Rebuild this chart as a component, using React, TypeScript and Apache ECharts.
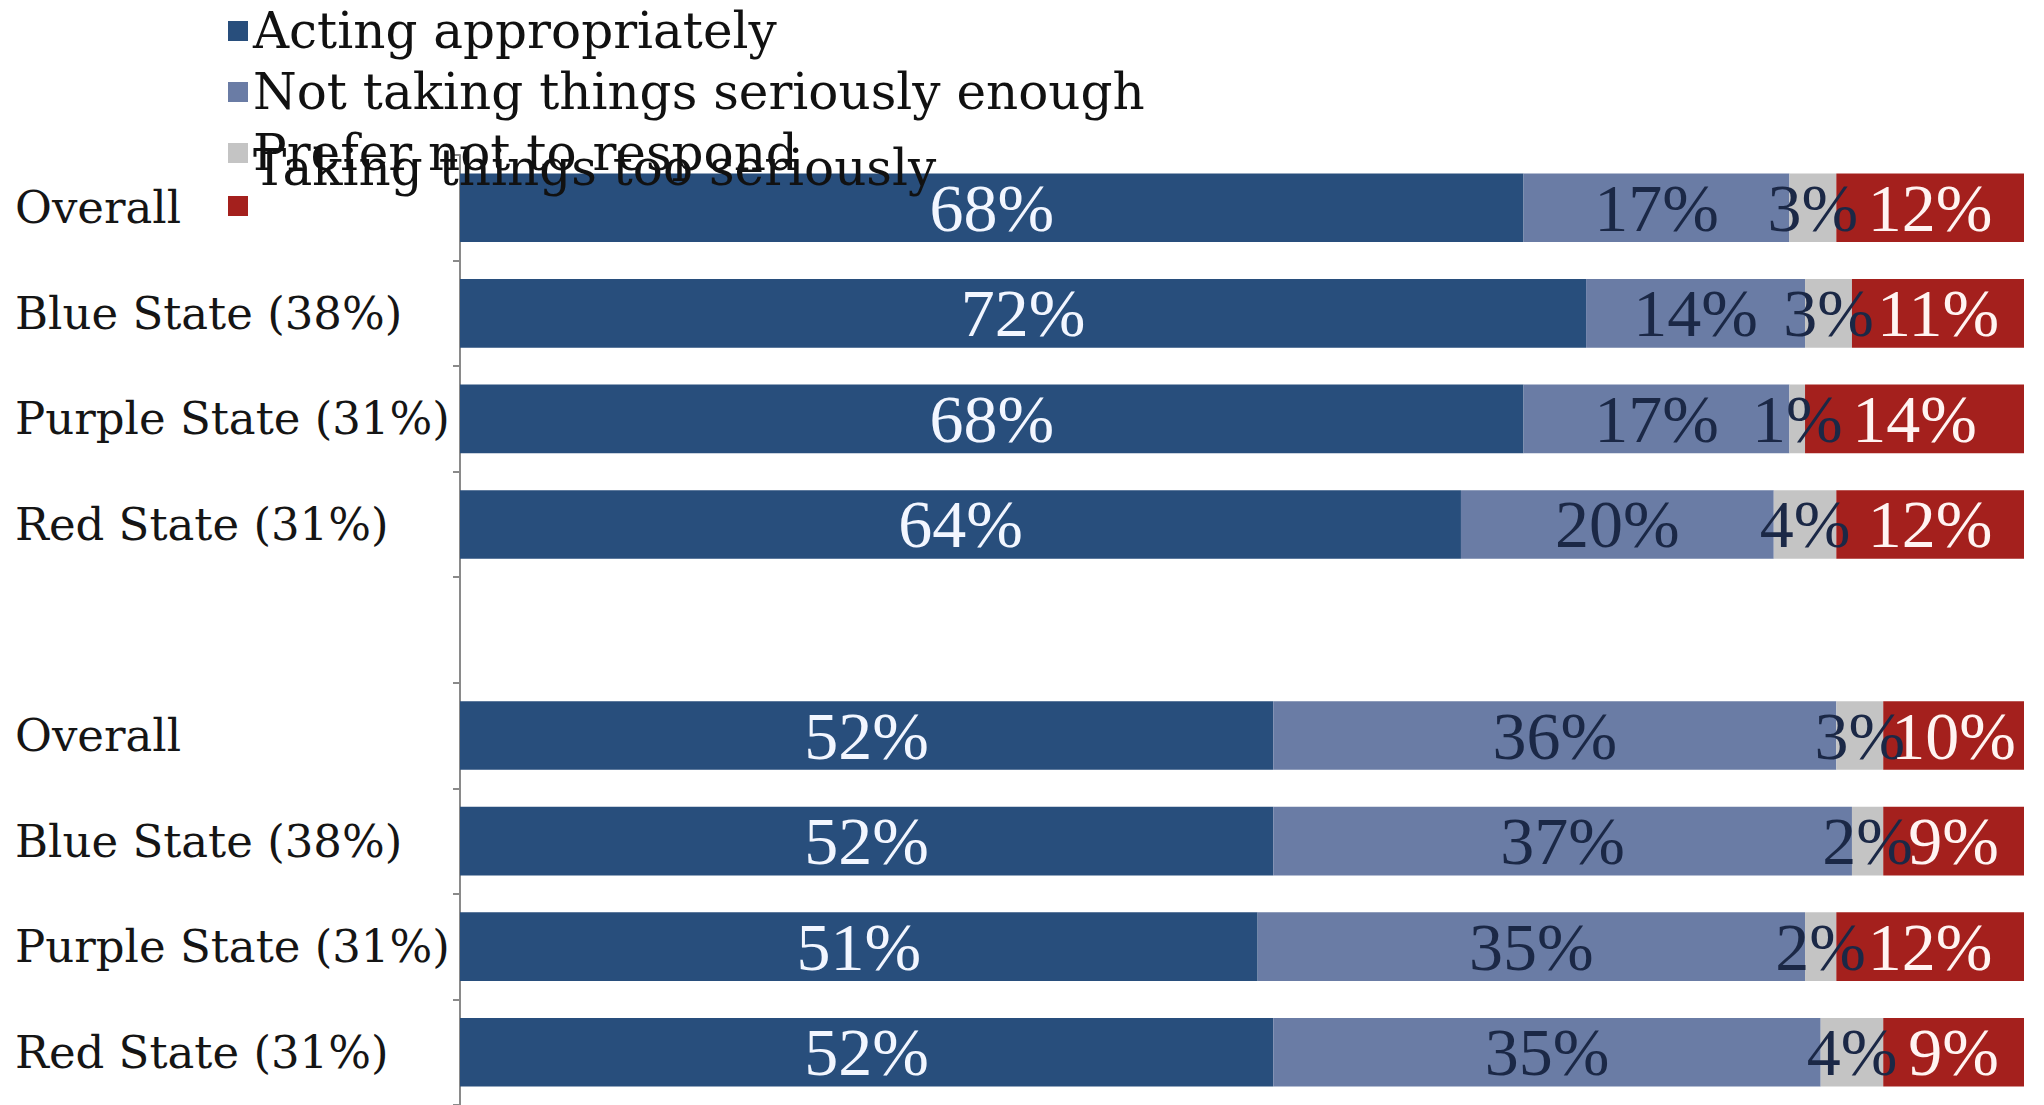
import React, { useEffect, useRef } from "react";
import * as echarts from "echarts";

const categories = [
  "Overall",
  "Blue State (38%)",
  "Purple State (31%)",
  "Red State (31%)",
  "",
  "Overall",
  "Blue State (38%)",
  "Purple State (31%)",
  "Red State (31%)",
];

const seriesNames = [
  "Acting appropriately",
  "Not taking things seriously enough",
  "Prefer not to respond",
  "Taking things too seriously",
];

const actingAppropriately = [68, 72, 68, 64, null, 52, 52, 51, 52];
const notSeriousEnough = [17, 14, 17, 20, null, 36, 37, 35, 35];
const preferNotRespond = [3, 3, 1, 4, null, 3, 2, 2, 4];
const tooSeriously = [12, 11, 14, 12, null, 10, 9, 12, 9];

const colors = ["#284e7c", "#6a7ca5", "#c4c4c4", "#a4201d"];
const labelColors = ["#f2f6ff", "#1b2846", "#1b2846", "#fff4f2"];

const SERIF = "'DejaVu Serif', serif";
const LABEL_FONT = "'Liberation Serif', 'Times New Roman', serif";

export default function App() {
  const ref = useRef<HTMLDivElement>(null);

  useEffect(() => {
    if (!ref.current) return;
    const chart = echarts.init(ref.current, undefined, { renderer: "svg" });
    const values = [actingAppropriately, notSeriousEnough, preferNotRespond, tooSeriously];

    const option = {
      animation: false,
      backgroundColor: "#ffffff",
      grid: { left: 460, right: 20, top: 155, bottom: -3, containLabel: false },
      legend: [
        {
          data: seriesNames.slice(0, 3),
          orient: "vertical",
          left: 228,
          top: 1,
          padding: 0,
          itemWidth: 20,
          itemHeight: 20,
          itemGap: 1,
          icon: "rect",
          selectedMode: false,
          textStyle: { fontFamily: SERIF, fontSize: 50, lineHeight: 60, color: "#111111" },
        },
        {
          data: [seriesNames[3]],
          orient: "vertical",
          left: 228,
          top: 143,
          padding: 0,
          itemWidth: 20,
          itemHeight: 20,
          icon: "rect",
          selectedMode: false,
          formatter: (name: string) => `{a|${name}}`,
          textStyle: {
            fontFamily: SERIF,
            fontSize: 50,
            color: "#111111",
            rich: {
              a: {
                fontFamily: SERIF,
                fontSize: 50,
                lineHeight: 60,
                color: "#111111",
                padding: [0, 0, 76, 0],
              },
            },
          },
        },
      ],
      xAxis: {
        type: "value",
        min: 0,
        max: 100,
        show: false,
      },
      yAxis: {
        type: "category",
        inverse: true,
        data: categories,
        axisLine: { show: true, lineStyle: { color: "#8a8a8a", width: 2 } },
        axisTick: { show: true, length: 7, interval: 0, lineStyle: { color: "#8a8a8a", width: 2 } },
        axisLabel: {
          interval: 0,
          align: "left",
          margin: 445,
          fontFamily: SERIF,
          fontSize: 45,
          color: "#151515",
        },
        splitLine: { show: false },
      },
      series: seriesNames.map((name, i) => ({
        name,
        type: "bar",
        stack: "total",
        barWidth: "65%",
        data: values[i],
        itemStyle: { color: colors[i] },
        label: {
          show: true,
          position: "inside",
          formatter: (p: any) => (p.value == null ? "" : `${p.value}%`),
          fontFamily: LABEL_FONT,
          fontSize: 68,
          color: labelColors[i],
        },
      })),
    };

    chart.setOption(option as any);
    return () => chart.dispose();
  }, []);

  return (
    <div
      ref={ref}
      style={{ position: "fixed", left: 0, top: 0, width: 2044, height: 1105, background: "#fff" }}
    />
  );
}
